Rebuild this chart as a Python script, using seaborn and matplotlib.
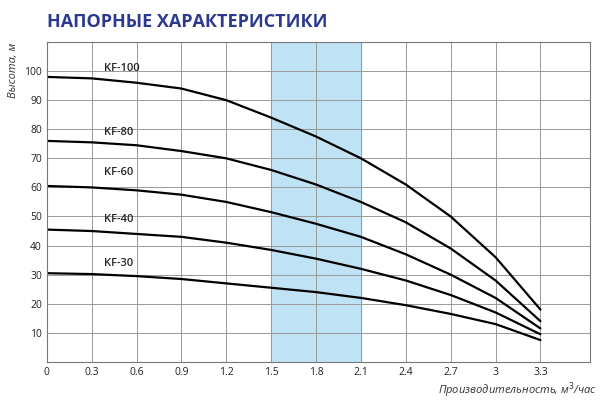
import seaborn as sns
import matplotlib.pyplot as plt
import pandas as pd

sns.set_theme(style="white")
plt.rcParams['font.family'] = ['Open Sans', 'DejaVu Sans']

flow = [0, 0.3, 0.6, 0.9, 1.2, 1.5, 1.8, 2.1, 2.4, 2.7, 3.0, 3.3]
kf100 = [98, 97.5, 96, 94, 90, 84, 77.5, 70, 61, 50, 36, 18]
kf80 = [76, 75.5, 74.5, 72.5, 70, 66, 61, 55, 48, 39, 28, 14]
kf60 = [60.5, 60, 59, 57.5, 55, 51.5, 47.5, 43, 37, 30, 22, 11.5]
kf40 = [45.5, 45, 44, 43, 41, 38.5, 35.5, 32, 28, 23, 17, 9.5]
kf30 = [30.5, 30.2, 29.5, 28.5, 27, 25.5, 24, 22, 19.5, 16.5, 13, 7.5]
models = ["KF-100", "KF-80", "KF-60", "KF-40", "KF-30"]
label_y = [101, 79, 65, 49, 34]

rows = []
for name, vals in zip(models, [kf100, kf80, kf60, kf40, kf30]):
    for q, h in zip(flow, vals):
        rows.append({"flow": q, "head": h, "model": name})
df = pd.DataFrame(rows)

fig = plt.figure(figsize=(6, 4.08), dpi=100)
ax = fig.add_axes([0.078, 0.113, 0.905, 0.784])
ax.axvspan(1.5, 2.1, color="#bfe3f5", zorder=0)
sns.lineplot(data=df, x="flow", y="head", units="model", estimator=None,
             color="black", linewidth=1.6, ax=ax, legend=False)
for name, y in zip(models, label_y):
    ax.text(0.38, y, name, fontsize=8, fontweight="semibold", ha="left", va="center")

ax.set_xlim(0, 3.63)
ax.set_ylim(0, 110)
ax.set_xticks(flow)
ax.set_xticklabels(["0"] + [f"{v:g}" for v in flow[1:]])
ax.set_yticks(range(10, 101, 10))
ax.tick_params(labelsize=7.5, colors="#222222", length=0)
ax.grid(True, color="#999999", linewidth=0.7)
for s in ax.spines.values():
    s.set_color("#777777")
    s.set_linewidth(0.8)
ax.set_xlabel("")
ax.set_ylabel("")
fig.text(0.995, 0.02, "Производительность, м$^3$/час", ha="right", va="bottom",
         fontsize=8, style="italic", color="#333333")
fig.text(0.022, 0.895, "Высота, м", rotation=90, ha="center", va="top",
         fontsize=8, style="italic", color="#333333")
fig.text(0.078, 0.945, "НАПОРНЫЕ ХАРАКТЕРИСТИКИ", fontsize=13, fontweight="bold",
         color="#2b3a8f", ha="left", va="center")
fig.savefig("out.png", dpi=100)
